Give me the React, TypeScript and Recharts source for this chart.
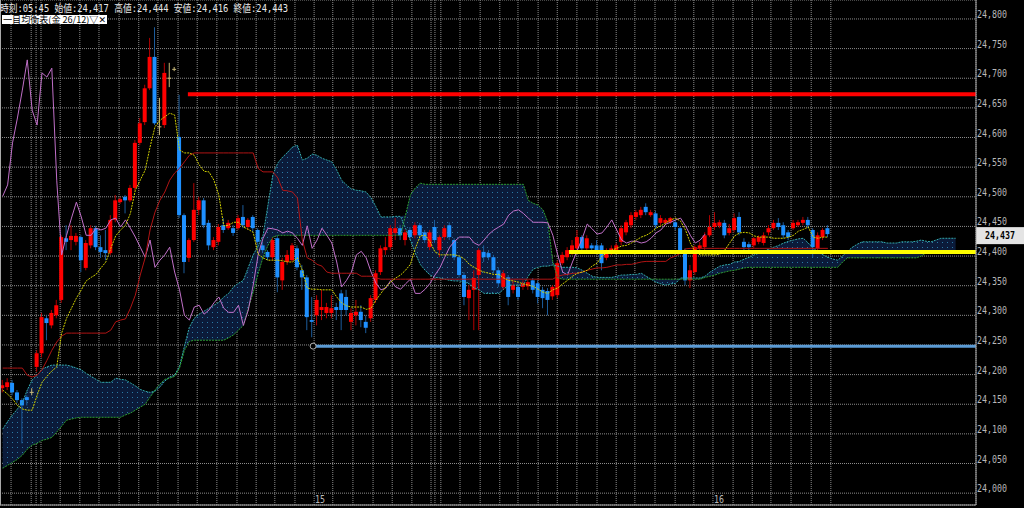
import {
  ComposedChart,
  Bar,
  Line,
  Area,
  XAxis,
  YAxis,
  CartesianGrid,
  ReferenceLine,
  ReferenceDot,
} from "recharts";

// M15 candles, left to right (index = bar number)
const opens = [
  24177, 24179, 24186, 24170, 24157, 24162, 24170, 24213, 24236, 24295,
  24283, 24300, 24326, 24430, 24427, 24424, 24432, 24380, 24418, 24447,
  24415, 24410, 24405, 24461, 24491, 24500, 24494, 24515, 24591, 24626,
  24683, 24736, 24618, 24621, 24700, 24715, 24601, 24469, 24397, 24427,
  24478, 24494, 24456, 24415, 24424, 24452, 24447, 24447, 24447, 24466,
  24449, 24466, 24444, 24418, 24407, 24398, 24430, 24359, 24390, 24393,
  24413, 24376, 24364, 24292, 24300, 24309, 24304, 24304, 24314, 24337,
  24331, 24289, 24300, 24306, 24289, 24295, 24326, 24373, 24410, 24415,
  24439, 24447, 24427, 24444, 24435, 24452, 24440, 24415, 24449, 24410,
  24432, 24452, 24427, 24398, 24368, 24329, 24343, 24368, 24407, 24405,
  24398, 24376, 24348, 24364, 24343, 24348, 24348, 24349, 24359, 24354,
  24343, 24341, 24332, 24334, 24388, 24398, 24407, 24413, 24432, 24413,
  24418, 24418, 24418, 24397, 24405, 24410, 24424, 24440, 24452, 24466,
  24469, 24483, 24469, 24472, 24456, 24456, 24457, 24457, 24447, 24410,
  24359, 24373, 24413, 24415, 24435, 24449, 24451, 24456, 24439, 24444,
  24466, 24424, 24420, 24418, 24424, 24422, 24440, 24447, 24456, 24452,
  24440, 24447, 24452, 24456, 24461, 24444, 24413, 24432, 24447,
];
const highs = [
  24191, 24194, 24191, 24174, 24160, 24165, 24177, 24241, 24304, 24300,
  24309, 24326, 24435, 24452, 24452, 24439, 24435, 24427, 24452, 24451,
  24435, 24444, 24469, 24503, 24500, 24503, 24520, 24596, 24633, 24689,
  24768, 24786, 24667, 24726, 24726, 24719, 24672, 24472, 24430, 24523,
  24500, 24498, 24461, 24432, 24454, 24464, 24461, 24452, 24469, 24486,
  24464, 24469, 24447, 24424, 24410, 24432, 24435, 24397, 24410, 24422,
  24418, 24385, 24368, 24331, 24334, 24343, 24321, 24334, 24321, 24343,
  24343, 24312, 24326, 24317, 24300, 24334, 24376, 24418, 24432, 24452,
  24464, 24452, 24445, 24449, 24457, 24456, 24444, 24444, 24461, 24435,
  24452, 24457, 24430, 24402, 24373, 24351, 24376, 24413, 24418, 24410,
  24402, 24381, 24376, 24368, 24359, 24354, 24359, 24360, 24363, 24359,
  24348, 24346, 24351, 24393, 24407, 24415, 24427, 24444, 24435, 24435,
  24422, 24427, 24422, 24413, 24418, 24422, 24452, 24461, 24474, 24478,
  24483, 24489, 24478, 24476, 24469, 24464, 24466, 24461, 24449, 24413,
  24385, 24418, 24424, 24440, 24469, 24474, 24461, 24461, 24454, 24472,
  24474, 24430, 24424, 24432, 24435, 24440, 24452, 24461, 24464, 24457,
  24444, 24461, 24461, 24466, 24466, 24447, 24440, 24447, 24452,
];
const lows = [
  24170, 24174, 24165, 24152, 24084, 24148, 24165, 24205, 24229, 24258,
  24278, 24295, 24321, 24410, 24410, 24418, 24373, 24376, 24413, 24410,
  24397, 24393, 24402, 24457, 24488, 24472, 24491, 24511, 24587, 24621,
  24680, 24621, 24604, 24616, 24685, 24712, 24464, 24371, 24390, 24424,
  24469, 24447, 24410, 24410, 24418, 24439, 24444, 24434, 24444, 24447,
  24444, 24440, 24418, 24405, 24393, 24393, 24339, 24343, 24385, 24390,
  24376, 24343, 24275, 24263, 24283, 24292, 24295, 24295, 24292, 24275,
  24300, 24275, 24283, 24280, 24270, 24289, 24321, 24368, 24402, 24410,
  24427, 24427, 24418, 24427, 24430, 24427, 24422, 24410, 24422, 24398,
  24427, 24427, 24393, 24364, 24317, 24292, 24275, 24275, 24390, 24393,
  24371, 24348, 24343, 24317, 24337, 24326, 24343, 24343, 24337, 24320,
  24312, 24300, 24326, 24329, 24385, 24393, 24402, 24410, 24407, 24410,
  24405, 24405, 24376, 24393, 24402, 24405, 24418, 24435, 24447, 24461,
  24464, 24469, 24466, 24447, 24452, 24452, 24454, 24444, 24405, 24351,
  24346, 24368, 24410, 24410, 24432, 24444, 24447, 24430, 24435, 24440,
  24435, 24410, 24410, 24413, 24420, 24418, 24435, 24444, 24444, 24430,
  24427, 24444, 24449, 24452, 24447, 24398, 24408, 24427, 24432,
];
const closes = [
  24182, 24187, 24170, 24157, 24148, 24157, 24170, 24236, 24297, 24287,
  24304, 24317, 24432, 24424, 24434, 24434, 24393, 24422, 24447, 24415,
  24407, 24405, 24461, 24494, 24496, 24494, 24515, 24591, 24624, 24683,
  24736, 24624, 24618, 24709, 24700, 24715, 24469, 24390, 24427, 24478,
  24494, 24452, 24418, 24427, 24449, 24444, 24456, 24439, 24464, 24452,
  24461, 24447, 24424, 24410, 24398, 24427, 24364, 24390, 24402, 24418,
  24381, 24364, 24297, 24289, 24326, 24314, 24314, 24312, 24309, 24309,
  24309, 24304, 24306, 24292, 24279, 24329, 24371, 24413, 24415, 24447,
  24447, 24435, 24440, 24432, 24452, 24435, 24427, 24440, 24427, 24432,
  24447, 24432, 24398, 24368, 24331, 24343, 24363, 24410, 24398, 24398,
  24376, 24354, 24371, 24331, 24351, 24331, 24354, 24356, 24343, 24331,
  24329, 24326, 24348, 24388, 24402, 24410, 24418, 24432, 24413, 24430,
  24413, 24410, 24388, 24407, 24413, 24418, 24447, 24457, 24469, 24474,
  24478, 24474, 24474, 24452, 24464, 24461, 24464, 24449, 24410, 24359,
  24376, 24415, 24418, 24435, 24449, 24456, 24457, 24435, 24447, 24464,
  24440, 24415, 24415, 24430, 24432, 24435, 24447, 24456, 24449, 24435,
  24432, 24456, 24457, 24461, 24452, 24415, 24435, 24444, 24437,
];

// 一目均衡表 lines
const tenkan = [
  24174, 24167, 24159, 24148, 24142, 24140, 24140, 24165, 24187, 24197,
  24206, 24213, 24270, 24295, 24312, 24329, 24343, 24358, 24364, 24369,
  24380, 24390, 24413, 24434, 24444, 24452, 24472, 24511, 24528, 24545,
  24584, 24618, 24629, 24635, 24641, 24638, 24579, 24574, 24574, 24570,
  24554, 24543, 24542, 24528, 24503, 24451, 24452, 24457, 24457, 24449,
  24445, 24440, 24403, 24397, 24393, 24393, 24393, 24392, 24390, 24390,
  24397, 24376, 24346, 24344, 24344, 24343, 24343, 24343, 24331, 24321,
  24316, 24314, 24314, 24314, 24310, 24312, 24326, 24337, 24348, 24356,
  24363, 24368, 24376, 24386, 24413, 24434, 24435, 24424, 24407, 24402,
  24402, 24402, 24402, 24400, 24395, 24386, 24381, 24376, 24373, 24371,
  24369, 24369, 24363, 24359, 24358, 24356, 24353, 24351, 24349, 24344,
  24339, 24337, 24343, 24346, 24353, 24359, 24366, 24371, 24373, 24376,
  24383, 24388, 24400, 24405, 24410, 24413, 24417, 24418, 24422, 24427,
  24432, 24435, 24440, 24447, 24451, 24456, 24461, 24464, 24459, 24444,
  24422, 24407, 24402, 24402, 24402, 24402, 24403, 24410, 24422, 24434,
  24439, 24440, 24439, 24434, 24432, 24432, 24432, 24430, 24430, 24430,
  24432, 24435, 24442, 24445, 24449, 24432, 24430, 24432, 24432,
];
const kijun = [
  24211, 24211, 24211, 24211, 24211, 24199, 24196, 24199, 24208, 24224,
  24241, 24255, 24265, 24270, 24270, 24270, 24270, 24270, 24270, 24270,
  24270, 24270, 24275, 24289, 24292, 24294, 24312, 24334, 24368, 24397,
  24444, 24474, 24494, 24508, 24528, 24540, 24548, 24559, 24570, 24574,
  24574, 24574, 24574, 24574, 24574, 24574, 24574, 24574, 24574, 24574,
  24574, 24574, 24548, 24542, 24542, 24542, 24532, 24511, 24510, 24508,
  24498, 24427, 24397, 24393, 24386, 24383, 24373, 24371, 24371, 24371,
  24371, 24371, 24371, 24366, 24366, 24366, 24363, 24361, 24361, 24361,
  24361, 24361, 24361, 24361, 24361, 24361, 24361, 24361, 24361, 24361,
  24361, 24361, 24361, 24361, 24361, 24361, 24361, 24361, 24361, 24361,
  24361, 24361, 24361, 24361, 24361, 24361, 24361, 24361, 24361, 24361,
  24361, 24361, 24361, 24366, 24368, 24369, 24371, 24371, 24373, 24376,
  24378, 24380, 24380, 24381, 24383, 24385, 24385, 24386, 24386, 24388,
  24390, 24391, 24391, 24391, 24391, 24391, 24397, 24400, 24405, 24412,
  24413, 24413, 24413, 24413, 24413, 24413, 24413, 24413, 24413, 24413,
  24413, 24413, 24413, 24413, 24413, 24413, 24413, 24413, 24413, 24413,
  24413, 24413, 24413, 24413, 24413, 24413, 24413, 24413, 24413,
];
const chikou = [
  24501, 24520, 24591, 24633, 24680, 24731, 24646, 24621, 24709, 24702,
  24717, 24528, 24402, 24435, 24464, 24491, 24466, 24435, 24435, 24447,
  24444, 24447, 24461, 24464, 24449, 24461, 24447, 24432, 24415, 24398,
  24427, 24381, 24393, 24402, 24415, 24373, 24343, 24300, 24292, 24314,
  24317, 24302, 24309, 24321, 24331, 24312, 24305, 24305, 24317, 24283,
  24309, 24351, 24402, 24430, 24447, 24446, 24444, 24439, 24442, 24439,
  24430, 24418, 24451, 24413, 24427, 24447, 24435, 24422, 24390, 24348,
  24359, 24373, 24402, 24408, 24397, 24373, 24354, 24343, 24346, 24359,
  24348, 24344, 24353, 24361, 24337, 24337, 24344, 24354, 24368, 24380,
  24398, 24415, 24425, 24432, 24432, 24432, 24422, 24418, 24427, 24437,
  24444, 24449, 24454, 24469, 24476, 24478, 24472, 24464, 24457, 24457,
  24457, 24456, 24435, 24402, 24373, 24368, 24390, 24410, 24430, 24454,
  24446, 24437, 24439, 24449, 24461, 24444, 24427, 24422, 24425, 24425,
  24422, 24424, 24430, 24439, 24444, 24454, 24457, 24461, 24464, 24451,
  24435, 24422, 24427, 24437,
];
// 先行スパン (drawn 26 bars ahead)
const spanA = [
  24108, 24121, 24132, 24142, 24153, 24174, 24191, 24199, 24209, 24213,
  24216, 24216, 24216, 24216, 24214, 24211, 24208, 24202, 24197, 24192,
  24187, 24187, 24187, 24194, 24192, 24191, 24186, 24181, 24175, 24172,
  24170, 24172, 24179, 24189, 24196, 24199, 24214, 24248, 24280, 24295,
  24302, 24307, 24312, 24317, 24322, 24331, 24337, 24348, 24354, 24359,
  24381, 24402, 24417, 24435, 24486, 24537, 24557, 24567, 24575, 24584,
  24587, 24562, 24565, 24572, 24570, 24565, 24562, 24559, 24545, 24528,
  24520, 24513, 24511, 24510, 24508, 24498, 24483, 24466, 24466, 24466,
  24467, 24467, 24447, 24427, 24405, 24386, 24376, 24368, 24364, 24363,
  24361, 24359, 24358, 24358, 24356, 24353, 24346, 24343, 24337, 24337,
  24337, 24337, 24344, 24351, 24351, 24351, 24351, 24366, 24378, 24381,
  24383, 24383, 24385, 24383, 24381, 24381, 24381, 24380, 24376, 24371,
  24366, 24364, 24364, 24364, 24364, 24366, 24368, 24368, 24369, 24369,
  24371, 24366, 24361, 24356, 24353, 24351, 24353, 24354, 24363, 24363,
  24363, 24363, 24363, 24366, 24373, 24378, 24383, 24385, 24386, 24390,
  24391, 24395, 24398, 24402, 24405, 24408, 24412, 24415, 24418, 24422,
  24425, 24427, 24429, 24430, 24422, 24413, 24407, 24402, 24398, 24395,
  24393, 24400, 24408, 24415, 24420, 24424, 24424, 24424, 24424, 24424,
  24422, 24422, 24422, 24424, 24424, 24424, 24425, 24427, 24425, 24424,
  24427, 24430, 24430, 24430, 24430,
];
const spanB = [
  24042, 24047, 24052, 24057, 24064, 24074, 24081, 24084, 24089, 24091,
  24094, 24103, 24113, 24123, 24125, 24127, 24128, 24128, 24128, 24128,
  24128, 24128, 24128, 24128, 24128, 24132, 24135, 24140, 24145, 24150,
  24162, 24174, 24184, 24192, 24194, 24197, 24211, 24241, 24256, 24258,
  24258, 24258, 24258, 24258, 24258, 24258, 24262, 24267, 24275, 24283,
  24312, 24339, 24370, 24398, 24418, 24432, 24435, 24435, 24435, 24435,
  24435, 24435, 24435, 24435, 24435, 24435, 24435, 24435, 24435, 24435,
  24435, 24435, 24435, 24435, 24435, 24435, 24435, 24435, 24435, 24435,
  24435, 24435, 24469, 24503, 24515, 24523, 24521, 24521, 24521, 24521,
  24521, 24521, 24521, 24521, 24521, 24521, 24521, 24521, 24521, 24521,
  24521, 24521, 24521, 24521, 24521, 24521, 24521, 24494, 24489, 24486,
  24478, 24457, 24390, 24363, 24361, 24361, 24361, 24361, 24361, 24361,
  24361, 24361, 24361, 24361, 24361, 24361, 24361, 24361, 24361, 24361,
  24361, 24361, 24361, 24361, 24361, 24361, 24361, 24361, 24361, 24361,
  24361, 24361, 24361, 24364, 24366, 24368, 24371, 24373, 24375, 24376,
  24378, 24380, 24381, 24381, 24381, 24381, 24381, 24381, 24381, 24381,
  24381, 24381, 24381, 24381, 24381, 24381, 24381, 24381, 24381, 24381,
  24381, 24390, 24397, 24397, 24397, 24397, 24397, 24397, 24397, 24397,
  24397, 24397, 24397, 24397, 24397, 24397, 24397, 24400, 24405, 24405,
  24405, 24405, 24405, 24405, 24405,
];

// axis ticks
const priceTicks = [
  24000, 24050, 24100, 24150, 24200, 24250, 24300, 24350, 24400, 24450,
  24500, 24550, 24600, 24650, 24700, 24750, 24800,
];
const gridTicks = [
  1.7, 5.8, 6.8, 7.8, 11.7, 15.7, 19.6, 23.7, 27.7, 31.6, 35.7, 39.6, 43.6,
  47.7, 51.6, 55.4, 59.5, 63.4, 67.2, 71.3, 75.4, 79.3, 83.3, 87.2, 88.0,
  89.2, 93.1, 97.2, 101.2, 104.9, 109.0, 112.9, 116.9, 121.0, 124.9, 128.7,
  132.8, 136.9, 140.7, 144.6, 148.7, 152.6, 156.4, 160.5, 164.6, 168.6,
];
const dayLabels = [
  { at: 63.4, text: "15" },
  { at: 144.6, text: "16" },
];

// drawn horizontal lines
const resistance = 24673;
const resistanceFrom = 37.7;
const pivot = 24407;
const pivotFrom = 115.3;
const support = 24248;
const supportFrom = 63.2;
const lastPrice = 24437;

const headerText = "時刻:05:45 始値:24,417 高値:24,444 安値:24,416 終値:24,443";
const indicatorName = "一目均衡表(金 26/12)▽✕";

const X_MIN = -0.55;
const X_MAX = 198.15;

const rows = spanA.map((a, i) => {
  const b = spanB[i];
  const has = i < closes.length;
  return {
    i,
    range: has ? [lows[i], highs[i]] : null,
    o: has ? opens[i] : null,
    h: has ? highs[i] : null,
    l: has ? lows[i] : null,
    c: has ? closes[i] : null,
    tenkan: i < tenkan.length ? tenkan[i] : null,
    kijun: i < kijun.length ? kijun[i] : null,
    chikou: i < chikou.length ? chikou[i] : null,
    spanA: a,
    spanB: b,
    cloud: [Math.min(a, b), Math.max(a, b)],
  };
});

const Candle = (props: any) => {
  const { x, y, width, height, payload } = props;
  if (!payload || payload.o == null) return null;
  const { o, h, l, c } = payload;
  const k = height / (h - l || 1);
  const py = (v: number) => y + (h - v) * k;
  const cx = x + width / 2;
  const flat = Math.abs(c - o) < 2;
  const up = c > o;
  const body = flat ? "#c8b878" : up ? "#ff0000" : "#1e90ff";
  const wick = flat ? "#c8b878" : up ? "#b40000" : "#1c5c9c";
  const top = py(Math.max(o, c));
  const bot = py(Math.min(o, c));
  return (
    <g>
      <line x1={cx} x2={cx} y1={py(h)} y2={py(l)} stroke={wick} strokeWidth={1} />
      {flat ? (
        <line x1={x} x2={x + width} y1={top} y2={top} stroke={body} strokeWidth={1} />
      ) : (
        <rect x={x} y={top} width={width} height={Math.max(1, bot - top)} fill={body} />
      )}
    </g>
  );
};

const NoTick = () => <g />;

const PriceTick = (props: any) => {
  const { x, y, payload } = props;
  return (
    <text
      x={x + 1}
      y={y - 1}
      fill="#b8b8b8"
      fontSize={11}
      fontFamily="DejaVu Sans Mono, monospace"
      textLength={30}
      lengthAdjust="spacingAndGlyphs"
    >
      {payload.value.toLocaleString("en-US")}
    </text>
  );
};

const LastPriceLabel = (props: any) => {
  const { viewBox } = props;
  if (!viewBox) return null;
  const left = viewBox.x + viewBox.width;
  const y = viewBox.y;
  return (
    <g>
      <rect x={left} y={y - 7} width={48} height={17} fill="#e4e4e4" />
      <text
        x={left + 24}
        y={y + 5}
        textAnchor="middle"
        fontSize={11}
        fontWeight="bold"
        fontFamily="DejaVu Sans Mono, monospace"
        fill="#000"
        textLength={30}
        lengthAdjust="spacingAndGlyphs"
      >
        {lastPrice.toLocaleString("en-US")}
      </text>
    </g>
  );
};

const DayLabel = (props: any) => {
  const { viewBox, text } = props;
  if (!viewBox) return null;
  return (
    <text
      x={viewBox.x + 1}
      y={viewBox.y + viewBox.height - 2}
      fill="#b8b8b8"
      fontSize={11}
      fontFamily="DejaVu Sans Mono, monospace"
      textLength={10}
      lengthAdjust="spacingAndGlyphs"
    >
      {text}
    </text>
  );
};

export default function App() {
  return (
    <div
      style={{
        position: "absolute",
        left: 0,
        top: 0,
        width: 1024,
        height: 508,
        background: "#000",
        overflow: "hidden",
      }}
    >
      <ComposedChart
        width={1024}
        height={508}
        data={rows}
        margin={{ top: 0, right: 0, left: 0, bottom: 0 }}
      >
        <defs>
          <pattern id="cloudDots" width="5" height="5" patternUnits="userSpaceOnUse">
            <rect width="5" height="5" fill="#0b1b3a" />
            <rect x="2" y="2" width="1" height="1" fill="#2a7aa6" />
          </pattern>
        </defs>

        <CartesianGrid stroke="#8c8c8c" strokeDasharray="1 1" />

        <XAxis
          dataKey="i"
          type="number"
          domain={[X_MIN, X_MAX]}
          allowDataOverflow
          ticks={gridTicks}
          interval={0}
          tick={<NoTick />}
          tickLine={false}
          axisLine={{ stroke: "#a8a8a8" }}
          height={3}
        />
        <YAxis
          type="number"
          orientation="right"
          width={48}
          domain={[23980, 24832]}
          allowDataOverflow
          ticks={priceTicks}
          interval={0}
          tick={<PriceTick />}
          tickLine={false}
          tickSize={0}
          tickMargin={0}
          axisLine={{ stroke: "#a8a8a8" }}
        />

        {/* 雲 */}
        <Area
          type="linear"
          dataKey="cloud"
          stroke="none"
          fill="url(#cloudDots)"
          fillOpacity={1}
          isAnimationActive={false}
          activeDot={false}
        />
        <Line type="linear" dataKey="spanA" stroke="#33aaaa" strokeWidth={1} strokeDasharray="2 1" dot={false} activeDot={false} isAnimationActive={false} />
        <Line type="linear" dataKey="spanB" stroke="#2e9e2e" strokeWidth={1} strokeDasharray="2 1" dot={false} activeDot={false} isAnimationActive={false} />

        <Bar dataKey="range" barSize={4} shape={<Candle />} isAnimationActive={false} />

        <Line type="linear" dataKey="chikou" stroke="#c070c8" strokeWidth={1} dot={false} activeDot={false} isAnimationActive={false} />
        <Line type="linear" dataKey="kijun" stroke="#b01414" strokeWidth={1} dot={false} activeDot={false} isAnimationActive={false} />
        <Line type="linear" dataKey="tenkan" stroke="#d2d200" strokeWidth={1} strokeDasharray="2 1" dot={false} activeDot={false} isAnimationActive={false} />

        <ReferenceLine
          segment={[{ x: resistanceFrom, y: resistance }, { x: X_MAX, y: resistance }]}
          stroke="#ff0000"
          strokeWidth={4}
        />
        <ReferenceLine
          segment={[{ x: pivotFrom, y: pivot }, { x: X_MAX, y: pivot }]}
          stroke="#ffff00"
          strokeWidth={4}
        />
        <ReferenceLine
          segment={[{ x: supportFrom, y: support }, { x: X_MAX, y: support }]}
          stroke="#5b9bd5"
          strokeWidth={3}
        />
        <ReferenceDot x={supportFrom} y={support} r={3} fill="#000" stroke="#b0b0b0" strokeWidth={1} />

        {dayLabels.map((d) => (
          <ReferenceLine key={d.text} x={d.at} stroke="none" label={<DayLabel text={d.text} />} />
        ))}
        <ReferenceLine y={lastPrice} stroke="none" label={<LastPriceLabel />} />
      </ComposedChart>

      <svg
        width={1024}
        height={508}
        style={{ position: "absolute", left: 0, top: 0, pointerEvents: "none" }}
      >
        <line x1={0.5} y1={0} x2={0.5} y2={505} stroke="#a8a8a8" />
        <text
          x={0}
          y={12}
          fill="#e8e8e8"
          fontSize={10}
          fontFamily="DejaVu Sans Mono, Noto Sans CJK JP, monospace"
          textLength={288}
          lengthAdjust="spacingAndGlyphs"
        >
          {headerText}
        </text>
        <rect x={2} y={15} width={105} height={9} fill="#ffffff" />
        <text
          x={3}
          y={23}
          fill="#000"
          fontSize={9}
          fontFamily="Noto Sans CJK JP, DejaVu Sans, sans-serif"
          textLength={103}
          lengthAdjust="spacingAndGlyphs"
        >
          {indicatorName}
        </text>
      </svg>
    </div>
  );
}
